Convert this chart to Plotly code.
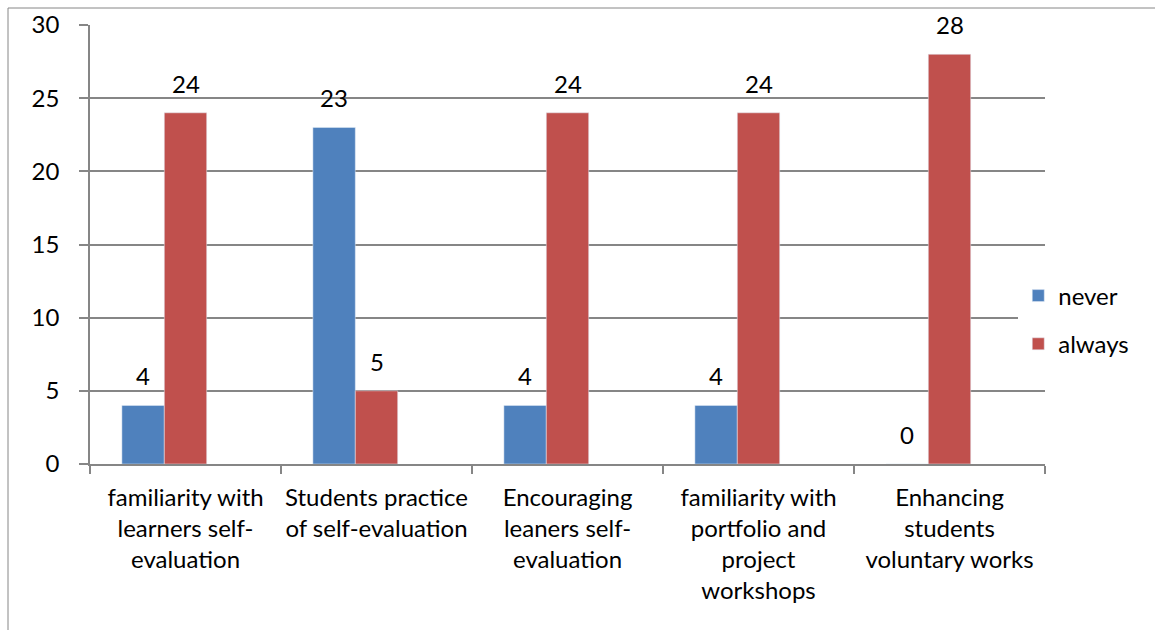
import plotly.graph_objects as go

# Survey items (category axis) and responses per series
categories = [
    "familiarity with<br>learners self-<br>evaluation",
    "Students practice<br>of self-evaluation",
    "Encouraging<br>leaners self-<br>evaluation",
    "familiarity with<br>portfolio and<br>project<br>workshops",
    "Enhancing<br>students<br>voluntary works",
]
never = [4, 23, 4, 4, 0]
always = [24, 5, 24, 24, 28]
y_ticks = [0, 5, 10, 15, 20, 25, 30]

BLUE = "#4F81BD"
RED = "#C0504D"
AXIS = "#868686"
FONT = "Lato"
FS = 24

W, H = 1155, 630
ML, MR, MT, MB = 90, 110, 25, 166
plot_w = W - ML - MR
cat_px = plot_w / len(categories)

bar_w = 0.222          # bar width in category units
never_off = -0.333     # left edge of the "never" bar relative to category centre
always_off = never_off + bar_w

fig = go.Figure()
fig.add_trace(go.Bar(
    name="never", x=categories, y=never, marker_color=BLUE,
    width=bar_w, offset=never_off, legendgroup="a",
))
fig.add_trace(go.Bar(
    name="always", x=categories, y=always, marker_color=RED,
    width=bar_w, offset=always_off, legendgroup="b",
))

# value labels above each bar
annotations = []
for series, off in ((never, never_off), (always, always_off)):
    shift = (off + bar_w / 2) * cat_px
    for cat, v in zip(categories, series):
        annotations.append(dict(
            x=cat, y=v, xref="x", yref="y", text=str(v), showarrow=False,
            xshift=shift, yshift=13, yanchor="bottom",
            font=dict(family=FONT, size=FS, color="black"),
        ))

# chart frame border
shapes = [dict(
    type="rect", xref="paper", yref="paper",
    x0=(8 - ML) / plot_w, x1=1.3,
    y0=-0.6, y1=1 + (MT - 8) / (H - MT - MB),
    line=dict(color=AXIS, width=1), fillcolor="rgba(0,0,0,0)", layer="below",
)]

fig.update_layout(
    width=W, height=H,
    margin=dict(l=ML, r=MR, t=MT, b=MB, autoexpand=False),
    paper_bgcolor="white", plot_bgcolor="white",
    font=dict(family=FONT, size=FS, color="black"),
    barmode="group",
    annotations=annotations,
    shapes=shapes,
    legend=dict(
        x=0.972, xanchor="left", y=0.328, yanchor="middle",
        font=dict(family=FONT, size=FS, color="black"),
        tracegroupgap=14, itemwidth=30,
    ),
    xaxis=dict(
        type="category", showline=True, linecolor=AXIS, linewidth=1.5,
        ticks="outside", tickson="boundaries", ticklen=8, tickcolor=AXIS,
        tickwidth=1.5, showgrid=False, ticklabelstandoff=11,
        tickangle=0, automargin=False,
    ),
    yaxis=dict(
        range=[0, 30], tickvals=y_ticks, showline=True, linecolor=AXIS,
        linewidth=1.5, ticks="outside", ticklen=9, tickcolor=AXIS, tickwidth=1.5,
        showgrid=True, gridcolor=AXIS, gridwidth=1.5, zeroline=False,
        ticklabelstandoff=15, automargin=False,
    ),
)

fig.write_html("out.html")
